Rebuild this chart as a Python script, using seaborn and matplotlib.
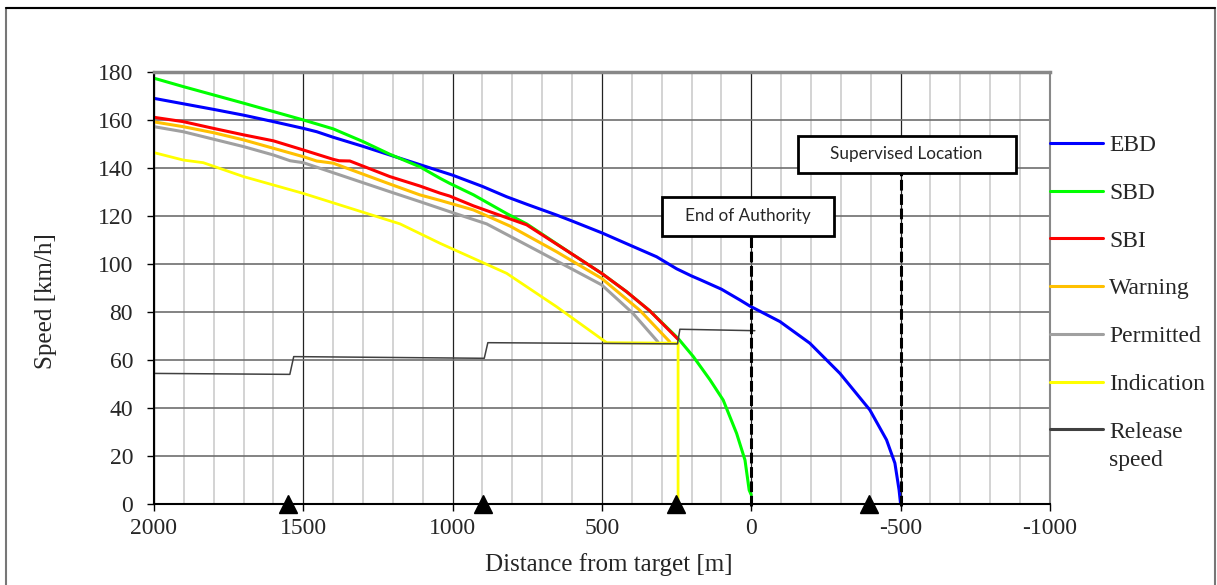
import matplotlib
matplotlib.use("Agg")
import matplotlib.pyplot as plt
from matplotlib.patches import Rectangle
from matplotlib.lines import Line2D
from matplotlib.ticker import MultipleLocator
import seaborn as sns

# ------------------------------------------------------------- #
#            DATOS (distancia en m, velocidad en km/h)          #
# ------------------------------------------------------------- #

ebd_dist = [2000, 1900, 1800, 1700, 1600, 1500, 1455, 1400, 1300, 1210, 1100, 1000,
            900, 819, 750, 652, 600, 501, 400, 317, 250, 200, 172, 100, 38, 5,
            -96, -196, -297, -397, -453, -481, -495, -500]
ebd_speed = [169.0, 166.7, 164.4, 162.0, 159.3, 156.5, 155.1, 152.8, 149.0, 145.4, 141.0, 137.0,
             132.3, 128.0, 124.8, 120.4, 117.9, 113.0, 107.5, 103.0, 98.0, 95.0, 93.5, 89.5, 85.0, 82.5,
             76.0, 67.0, 54.4, 39.2, 26.7, 17.0, 5.8, 0.0]

sbd_dist = [2000, 1902, 1700, 1600, 1500, 1400, 1300, 1210, 1110, 1042, 1010, 930, 819, 752,
            596, 501, 418, 340, 245, 194, 138, 94, 49, 21, 7, 0]
sbd_speed = [177.4, 173.9, 167.0, 163.5, 160.0, 156.3, 151.0, 145.7, 140.5, 135.7, 133.6, 128.8, 121.0, 116.7,
             103.8, 96.1, 88.5, 80.5, 69.0, 61.4, 51.7, 43.3, 29.4, 18.3, 5.8, 3.8]

sbi_dist = [2000, 1902, 1801, 1700, 1600, 1500, 1400, 1380, 1344, 1210, 1110, 1042, 1010, 930,
            752, 596, 501, 418, 340, 245]
sbi_speed = [161.1, 159.3, 156.5, 153.8, 151.3, 147.5, 143.6, 143.0, 142.9, 136.4, 132.5, 129.5, 128.3, 124.2,
             116.3, 103.8, 96.1, 88.5, 80.5, 68.6]

warn_dist = [2000, 1902, 1801, 1700, 1600, 1500, 1455, 1400, 1210, 1110, 1042, 930, 808, 652, 501, 374, 273]
warn_speed = [159.2, 157.2, 154.7, 151.7, 148.2, 144.7, 142.9, 142.0, 133.3, 128.8, 126.5, 122.5, 115.8,
              105.1, 94.0, 80.8, 67.6]

perm_dist = [2000, 1902, 1801, 1700, 1600, 1544, 1500, 1210, 1110, 1010, 886, 708, 501, 396, 313]
perm_speed = [157.2, 155.1, 152.0, 148.9, 145.4, 143.0, 142.2, 130.1, 126.0, 121.8, 116.7, 105.0, 91.3, 79.4, 67.6]

ind_dist = [2000, 1902, 1835, 1700, 1600, 1500, 1176, 1042, 819, 652, 484, 245, 245]
ind_speed = [146.4, 143.3, 142.2, 136.4, 132.9, 129.4, 116.7, 108.6, 96.1, 82.2, 67.2, 67.0, 0.0]

rel_dist = [2000, 1545, 1532, 894, 882, 247, 239, -12]
rel_speed = [54.4, 54.0, 61.4, 60.7, 67.2, 66.7, 72.8, 72.2]

# balizas (triángulos sobre el eje)
balise_dist = [1550, 897, 252, -395]

# ubicaciones marcadas: (texto, distancia, caja x0, caja x1, caja y0, caja y1)
locations = [
    ("End of Authority", 0, 298, -277, 111.7, 128.0),
    ("Supervised Location", -500, -155, -885, 137.8, 153.5),
]

curves = [
    ("EBD", ebd_dist, ebd_speed, "#0000ff", 2.2),
    ("SBD", sbd_dist, sbd_speed, "#00ff00", 2.2),
    ("SBI", sbi_dist, sbi_speed, "#ff0000", 2.2),
    ("Warning", warn_dist, warn_speed, "#ffc000", 2.2),
    ("Permitted", perm_dist, perm_speed, "#a0a0a0", 2.2),
    ("Indication", ind_dist, ind_speed, "#ffff00", 2.0),
    ("Release", rel_dist, rel_speed, "#404040", 1.1),
]

# ------------------------------------------------------------- #
#                           GRÁFICO                             #
# ------------------------------------------------------------- #

sns.set_theme(style="white")
plt.rcParams["font.family"] = ["Liberation Serif", "DejaVu Serif"]
plt.rcParams["axes.unicode_minus"] = False

fig = plt.figure(figsize=(12.17, 5.85), dpi=100)
ax = fig.add_axes([0.1265, 0.1385, 0.7362, 0.7385])

for name, d, v, color, lw in curves:
    sns.lineplot(x=d, y=v, color=color, linewidth=lw, sort=False, estimator=None,
                 label=name, ax=ax)

# líneas verticales discontinuas y cajas de texto
for text, loc, x0, x1, y0, y1 in locations:
    ax.plot([loc, loc], [-1, y0], color="black", lw=2.2, ls=(0, (3.5, 1.2)),
            clip_on=False, zorder=4)
    ax.add_patch(Rectangle((min(x0, x1), y0), abs(x1 - x0), y1 - y0,
                           facecolor="white", edgecolor="black", lw=2, zorder=5))
    ax.text((x0 + x1) / 2, (y0 + y1) / 2, text, family="Lato", fontsize=12.3,
            ha="center", va="center", zorder=6)

ax.plot(balise_dist, [0] * len(balise_dist), ls="none", marker="^", ms=13.5,
        color="black", clip_on=False, zorder=7)

ax.set_xlim(2000, -1000)
ax.set_ylim(0, 180)
ax.xaxis.set_major_locator(MultipleLocator(500))
ax.xaxis.set_minor_locator(MultipleLocator(100))
ax.yaxis.set_major_locator(MultipleLocator(20))
ax.set_axisbelow(True)
ax.grid(which="major", axis="y", color="#6e6e6e", lw=1.2)
ax.grid(which="major", axis="x", color="#222222", lw=0.9)
ax.grid(which="minor", axis="x", color="#cccccc", lw=1.2)

ax.tick_params(axis="both", which="major", labelsize=17, length=5, width=1,
               color="black", direction="out", bottom=True, left=True)
ax.tick_params(axis="x", which="major", pad=5)
ax.tick_params(axis="y", which="major", pad=10)
ax.tick_params(which="minor", length=0)

for side in ["left", "bottom"]:
    ax.spines[side].set_color("black")
    ax.spines[side].set_linewidth(1.5)
ax.spines["top"].set_color("#888888")
ax.spines["top"].set_linewidth(2.5)
ax.spines["right"].set_color("#888888")
ax.spines["right"].set_linewidth(1.5)

ax.set_xlabel("Distance from target [m]", fontsize=18)
ax.set_ylabel("Speed [km/h]", fontsize=18)
ax.xaxis.set_label_coords(0.508, -0.113)
ax.yaxis.set_label_coords(-0.108, 0.47)

leg = ax.legend(loc="upper left", bbox_to_anchor=(1.0, 0.855), frameon=False,
                fontsize=17, handlelength=2.25, handletextpad=0.25,
                labelspacing=1.11, borderaxespad=0, borderpad=0)
for line in leg.get_lines():
    line.set_linewidth(2.2)

# segunda línea de la etiqueta "Release speed"
fig.canvas.draw()
bb = leg.get_texts()[-1].get_window_extent().transformed(fig.transFigure.inverted())
fig.text(bb.x0, bb.y0 - 0.013, "speed", fontsize=17, ha="left", va="top")

# marco exterior
fig.add_artist(Rectangle((6 / 1217, -0.05), 1209 / 1217, 1.05 - 8 / 585,
                         transform=fig.transFigure, fill=False,
                         edgecolor="#777777", lw=1.5))
fig.add_artist(Line2D([6 / 1217, 1215 / 1217], [1 - 8 / 585, 1 - 8 / 585],
                      transform=fig.transFigure, color="black", lw=1.5))

plt.savefig("out.png", dpi=100)
